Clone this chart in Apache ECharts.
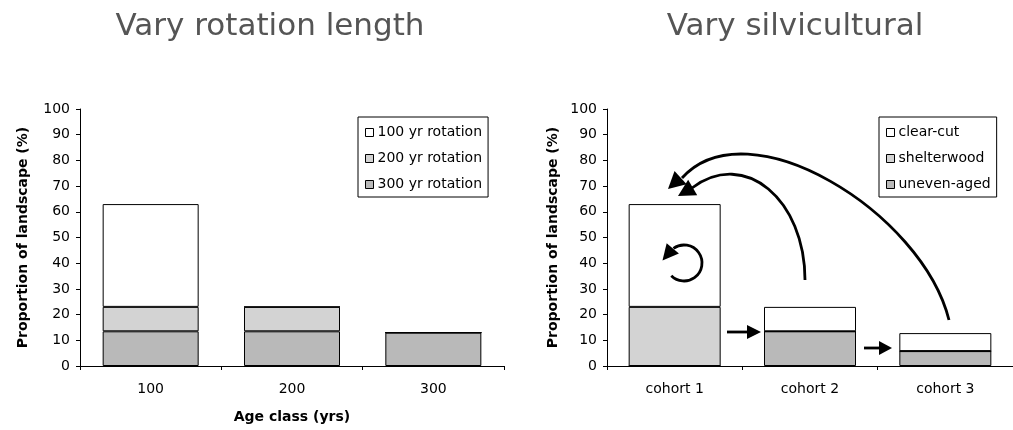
<!DOCTYPE html>
<html>
<head>
<meta charset="utf-8">
<script src="https://cdn.jsdelivr.net/npm/echarts@6/dist/echarts.min.js"></script>
<style>
  html, body { margin: 0; padding: 0; background: #fff; }
  #chart { width: 1013px; height: 430px; }
</style>
</head>
<body>
<div id="chart"></div>
<script>
// left panel: vary rotation length
const ageClasses = ['100', '200', '300'];
const rot100 = [40, 0, 0];
const rot200 = [9.5, 9.5, 0];
const rot300 = [13.5, 13.5, 13];

// right panel: vary silvicultural
const cohorts = ['cohort 1', 'cohort 2', 'cohort 3'];
const clearCut = [40, 9.5, 7];
const shelterwood = [23, 0, 0];
const unevenAged = [0, 13.5, 5.8];

const yTicks = [0, 10, 20, 30, 40, 50, 60, 70, 80, 90, 100];

const FONT = 'DejaVu Sans';
const WHITE = '#ffffff';
const LIGHT = '#d3d3d3';
const DARK = '#b9b9b9';

const chart = echarts.init(document.getElementById('chart'));

function yAxis(grid, name, gap) {
  return {
    type: 'value',
    gridIndex: grid,
    min: yTicks[0],
    max: yTicks[yTicks.length - 1],
    interval: 10,
    name: name,
    nameLocation: 'middle',
    nameGap: gap,
    nameTextStyle: { fontFamily: FONT, fontSize: 14, fontWeight: 'bold', color: '#000' },
    axisLine: { show: true, lineStyle: { color: '#000', width: 1 } },
    axisTick: { show: true, length: 4, lineStyle: { color: '#000' } },
    axisLabel: { color: '#000', fontFamily: FONT, fontSize: 14, margin: 10 },
    splitLine: { show: false }
  };
}

function xAxis(grid, data, name) {
  return {
    type: 'category',
    gridIndex: grid,
    data: data,
    name: name,
    nameLocation: 'middle',
    nameGap: 44,
    nameTextStyle: { fontFamily: FONT, fontSize: 14, fontWeight: 'bold', color: '#000' },
    axisLine: { lineStyle: { color: '#000', width: 1 } },
    axisTick: { show: true, length: 4, alignWithLabel: false, lineStyle: { color: '#000' } },
    axisLabel: { color: '#000', fontFamily: FONT, fontSize: 14, margin: 16 }
  };
}

function bar(name, data, color, axis, stack, width) {
  return {
    name: name,
    type: 'bar',
    stack: stack,
    xAxisIndex: axis,
    yAxisIndex: axis,
    data: data,
    barWidth: width,
    itemStyle: { color: color, borderColor: '#000', borderWidth: 1 },
    emphasis: { disabled: true }
  };
}

function legend(left, names) {
  return {
    orient: 'vertical',
    left: left,
    top: 117,
    data: names,
    icon: 'rect',
    itemWidth: 8,
    itemHeight: 8,
    itemGap: 9,
    padding: [7, 6, 4, 7],
    borderColor: '#000',
    borderWidth: 1,
    selectedMode: false,
    itemStyle: { borderColor: '#000', borderWidth: 1 },
    textStyle: { fontFamily: FONT, fontSize: 14, color: '#000', lineHeight: 17, padding: [0, 0, 0, -1] }
  };
}

// annotation arrows on the right panel
function head(tx, ty, fx, fy, len, half) {
  const dx = tx - fx, dy = ty - fy;
  const d = Math.sqrt(dx * dx + dy * dy);
  const ux = dx / d, uy = dy / d;
  const bx = tx - ux * len, by = ty - uy * len;
  return {
    type: 'polygon',
    z: 100,
    shape: { points: [[tx, ty], [bx - uy * half, by + ux * half], [bx + uy * half, by - ux * half]] },
    style: { fill: '#000' }
  };
}

const arrowStyle = { stroke: '#000', lineWidth: 2.8, fill: null };
const arcStart = 220 * Math.PI / 180;
const arcC = [684, 263], arcR = 18;
const arcSx = arcC[0] + arcR * Math.cos(arcStart), arcSy = arcC[1] + arcR * Math.sin(arcStart);

const graphics = [
  { type: 'text', x: 270, y: 27, style: { text: 'Vary rotation length', font: '31px "DejaVu Sans"', fill: '#555', align: 'center', verticalAlign: 'middle' } },
  { type: 'text', x: 795, y: 27, style: { text: 'Vary silvicultural', font: '31px "DejaVu Sans"', fill: '#555', align: 'center', verticalAlign: 'middle' } },
  { type: 'bezierCurve', z: 100, shape: { x1: 949, y1: 320, cpx1: 922, cpy1: 212, cpx2: 748, cpy2: 105, x2: 682, y2: 178 }, style: arrowStyle },
  head(668, 189, 690, 169, 17, 9),
  { type: 'bezierCurve', z: 100, shape: { x1: 805, y1: 280, cpx1: 805, cpy1: 200, cpx2: 745, cpy2: 148, x2: 692, y2: 188 }, style: arrowStyle },
  head(678, 196, 702, 182, 17, 9),
  { type: 'arc', z: 100, shape: { cx: arcC[0], cy: arcC[1], r: arcR, startAngle: arcStart + 0.25, endAngle: arcStart + 4.8, clockwise: true }, style: arrowStyle },
  head(arcSx - 0.643 * 12, arcSy + 0.766 * 12, arcSx + 0.643 * 4, arcSy - 0.766 * 4, 16, 8),
  { type: 'line', z: 100, shape: { x1: 727, y1: 332, x2: 748, y2: 332 }, style: { stroke: '#000', lineWidth: 2.8 } },
  head(761, 332, 740, 332, 14, 7),
  { type: 'line', z: 100, shape: { x1: 864, y1: 348, x2: 880, y2: 348 }, style: { stroke: '#000', lineWidth: 2.8 } },
  head(892, 348, 870, 348, 13, 7)
];

chart.setOption({
  backgroundColor: '#fff',
  animation: false,
  grid: [
    { left: 80, top: 109, width: 424, height: 257 },
    { left: 607, top: 109, width: 412, height: 257 }
  ],
  xAxis: [xAxis(0, ageClasses, 'Age class (yrs)'), xAxis(1, cohorts, '')],
  yAxis: [yAxis(0, 'Proportion of landscape (%)', 50), yAxis(1, 'Proportion of landscape (%)', 47)],
  legend: [
    legend(358, ['100 yr rotation', '200 yr rotation', '300 yr rotation']),
    legend(879, ['clear-cut', 'shelterwood', 'uneven-aged'])
  ],
  series: [
    bar('300 yr rotation', rot300, DARK, 0, 'left', 96),
    bar('200 yr rotation', rot200, LIGHT, 0, 'left', 96),
    bar('100 yr rotation', rot100, WHITE, 0, 'left', 96),
    bar('uneven-aged', unevenAged, DARK, 1, 'right', 92),
    bar('shelterwood', shelterwood, LIGHT, 1, 'right', 92),
    bar('clear-cut', clearCut, WHITE, 1, 'right', 92)
  ],
  graphic: graphics
});
</script>
</body>
</html>
